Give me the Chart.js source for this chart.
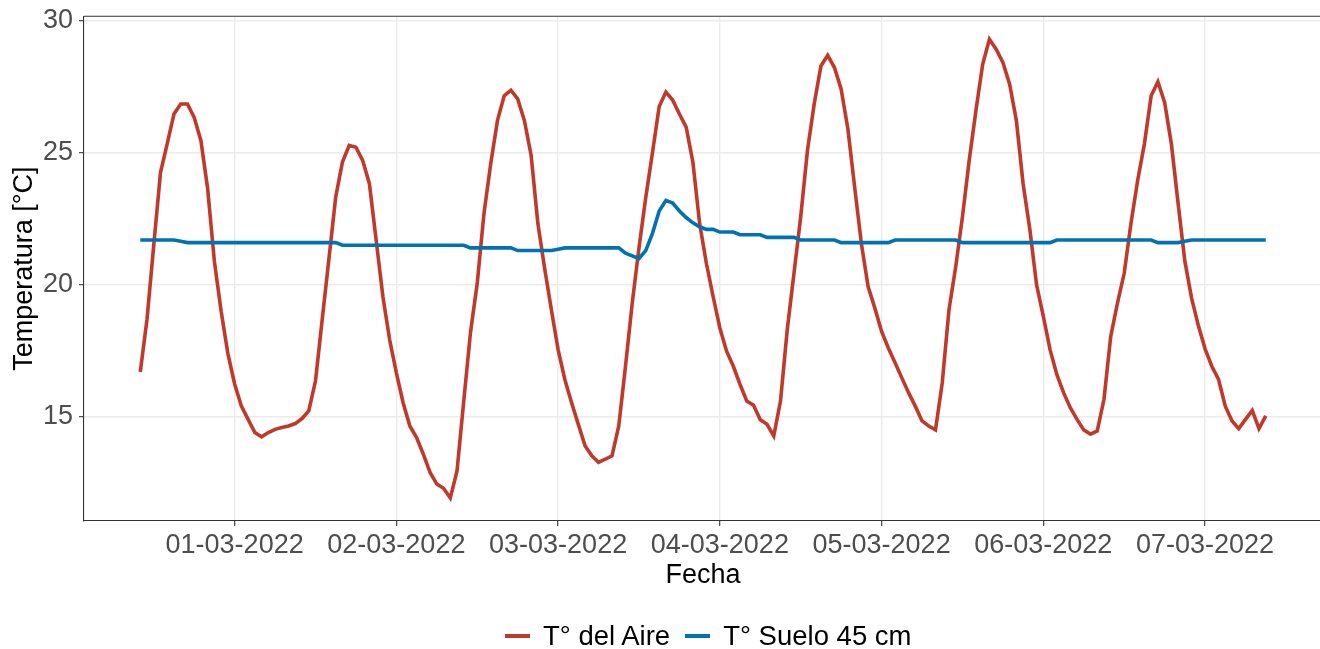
<!DOCTYPE html>
<html>
<head>
<meta charset="utf-8">
<script src="https://cdn.jsdelivr.net/npm/chart.js@4.4.1/dist/chart.umd.min.js"></script>
<style>
  html, body { margin: 0; padding: 0; background: #ffffff; overflow: hidden; }
  #wrap { position: relative; width: 1323px; height: 649px; }
  #legend { position: absolute; left: 505px; top: 616px; height: 40px; display: flex; align-items: center;
            font-family: 'Liberation Sans', Arial, sans-serif; font-size: 27.5px; color: #000; white-space: nowrap; }
  .key { display: inline-block; width: 25px; height: 3.8px; margin-right: 13px; }
  .gap { display: inline-block; width: 15px; }
</style>
</head>
<body>
<div id="wrap">
  <canvas id="c" width="1323" height="649"></canvas>
  <div id="legend"></div>
</div>
<script>
// ---- data ----
const seriesNames = ['T° del Aire', 'T° Suelo 45 cm'];
const seriesColors = ['#C0392B', '#0072B2'];
const firstTimestamp = '28-02-2022 10:00';   // hourly readings
const firstHourOffset = -14;                  // hours relative to 01-03-2022 00:00
const dayTickHours = [0, 24, 48, 72, 96, 120, 144];
const dayTickLabels = ['01-03-2022', '02-03-2022', '03-03-2022', '04-03-2022', '05-03-2022', '06-03-2022', '07-03-2022'];
const yTickValues = [15, 20, 25, 30];

const airTemp = [
  // 28-02 10:00-23:00
  16.7, 18.7, 21.5, 24.25, 25.35, 26.47, 26.85, 26.85, 26.34, 25.46, 23.64, 20.88, 19.0, 17.4,
  // 01-03
  16.25, 15.41, 14.91, 14.41, 14.25, 14.41, 14.53, 14.6, 14.66, 14.75, 14.94, 15.23, 16.36, 18.7, 21.0, 23.33, 24.65, 25.28, 25.21, 24.71, 23.83, 21.7, 19.56, 17.93,
  // 02-03
  16.67, 15.54, 14.66, 14.22, 13.59, 12.9, 12.46, 12.3, 11.93, 12.96, 15.6, 18.2, 20.06, 22.7, 24.59, 26.22, 27.16, 27.37, 27.04, 26.22, 24.9, 22.32, 20.63, 19.06,
  // 03-03
  17.55, 16.42, 15.54, 14.72, 13.91, 13.53, 13.28, 13.4, 13.53, 14.66, 16.92, 19.31, 21.4, 23.3, 25.0, 26.75, 27.3, 27.0, 26.47, 25.97, 24.65, 22.32, 20.82, 19.56,
  // 04-03
  18.37, 17.49, 16.92, 16.23, 15.6, 15.44, 14.89, 14.72, 14.28, 15.6, 18.3, 20.44, 22.58, 25.09, 26.85, 28.29, 28.69, 28.23, 27.41, 25.9, 23.71, 21.57, 19.94, 19.12,
  // 05-03
  18.24, 17.61, 17.05, 16.48, 15.92, 15.41, 14.85, 14.66, 14.51, 16.29, 19.06, 20.69, 22.58, 24.71, 26.6, 28.35, 29.3, 28.92, 28.42, 27.6, 26.22, 23.83, 22.1, 20.0,
  // 06-03
  18.81, 17.55, 16.61, 15.92, 15.35, 14.91, 14.51, 14.35, 14.47, 15.67, 18.05, 19.31, 20.44, 22.32, 23.96, 25.34, 27.16, 27.69, 26.91, 25.34, 23.08, 20.9, 19.5, 18.46,
  // 07-03 00:00-09:00
  17.58, 16.92, 16.42, 15.41, 14.85, 14.56, 14.91, 15.25, 14.56, 15.04
];

const soilTemp = [
  // 28-02 10:00-23:00
  21.7, 21.7, 21.7, 21.7, 21.7, 21.7, 21.65, 21.6, 21.6, 21.6, 21.6, 21.6, 21.6, 21.6,
  // 01-03
  21.6, 21.6, 21.6, 21.6, 21.6, 21.6, 21.6, 21.6, 21.6, 21.6, 21.6, 21.6, 21.6, 21.6, 21.6, 21.6, 21.5, 21.5, 21.5, 21.5, 21.5, 21.5, 21.5, 21.5,
  // 02-03
  21.5, 21.5, 21.5, 21.5, 21.5, 21.5, 21.5, 21.5, 21.5, 21.5, 21.5, 21.4, 21.4, 21.4, 21.4, 21.4, 21.4, 21.4, 21.3, 21.3, 21.3, 21.3, 21.3, 21.3,
  // 03-03
  21.35, 21.4, 21.4, 21.4, 21.4, 21.4, 21.4, 21.4, 21.4, 21.4, 21.2, 21.1, 21.0, 21.3, 21.95, 22.8, 23.2, 23.1, 22.8, 22.55, 22.35, 22.2, 22.1, 22.1,
  // 04-03
  22.0, 22.0, 22.0, 21.9, 21.9, 21.9, 21.9, 21.8, 21.8, 21.8, 21.8, 21.8, 21.7, 21.7, 21.7, 21.7, 21.7, 21.7, 21.6, 21.6, 21.6, 21.6, 21.6, 21.6,
  // 05-03
  21.6, 21.6, 21.7, 21.7, 21.7, 21.7, 21.7, 21.7, 21.7, 21.7, 21.7, 21.7, 21.6, 21.6, 21.6, 21.6, 21.6, 21.6, 21.6, 21.6, 21.6, 21.6, 21.6, 21.6,
  // 06-03
  21.6, 21.6, 21.7, 21.7, 21.7, 21.7, 21.7, 21.7, 21.7, 21.7, 21.7, 21.7, 21.7, 21.7, 21.7, 21.7, 21.7, 21.6, 21.6, 21.6, 21.6, 21.65, 21.7, 21.7,
  // 07-03 00:00-09:00
  21.7, 21.7, 21.7, 21.7, 21.7, 21.7, 21.7, 21.7, 21.7, 21.7
];

// ---- build chart ----
const toPoints = arr => arr.map((v, i) => ({ x: firstHourOffset + i, y: v }));
const allVals = airTemp.concat(soilTemp);
const yMinData = Math.min(...allVals), yMaxData = Math.max(...allVals);
const yPad = (yMaxData - yMinData) * 0.05;
const xMinData = firstHourOffset, xMaxData = firstHourOffset + airTemp.length - 1;
const xPad = (xMaxData - xMinData) * 0.05;

const FONT = "'Liberation Sans', Arial, sans-serif";
const GRID = '#EBEBEB';
const AXIS = '#333333';

// top edge of the panel (left/bottom come from the axes; right edge is off-page)
const borderPlugin = {
  id: 'panelBorder',
  afterDraw(chart) {
    const { ctx, chartArea: a } = chart;
    ctx.save();
    ctx.strokeStyle = AXIS;
    ctx.lineWidth = 1.1;
    ctx.beginPath();
    ctx.moveTo(a.left, a.top);
    ctx.lineTo(a.right + 2, a.top);
    ctx.stroke();
    ctx.restore();
  }
};

new Chart(document.getElementById('c'), {
  type: 'line',
  data: {
    datasets: [
      { label: seriesNames[0], data: toPoints(airTemp), borderColor: seriesColors[0], backgroundColor: seriesColors[0],
        borderWidth: 3.6, pointRadius: 0, tension: 0, fill: false, order: 1 },
      { label: seriesNames[1], data: toPoints(soilTemp), borderColor: seriesColors[1], backgroundColor: seriesColors[1],
        borderWidth: 3.6, pointRadius: 0, tension: 0, fill: false, order: 0 }
    ]
  },
  options: {
    responsive: false,
    animation: false,
    devicePixelRatio: 1,
    layout: { padding: { top: 16.3, left: 0, right: 1, bottom: 38 } },
    plugins: { legend: { display: false }, tooltip: { enabled: false } },
    scales: {
      x: {
        type: 'linear',
        min: xMinData - xPad,
        max: xMaxData + xPad,
        afterFit(s) { s.height = 90; s.paddingLeft = 0; s.paddingRight = 0; },
        afterBuildTicks(s) { s.ticks = dayTickHours.map(v => ({ value: v })); },
        grid: { color: GRID, lineWidth: 1.4, tickColor: AXIS, tickLength: 5, tickWidth: 1.1 },
        border: { display: true, color: AXIS, width: 1.1 },
        ticks: {
          autoSkip: false, maxRotation: 0, padding: 3, color: '#4D4D4D',
          font: { family: FONT, size: 27 },
          callback: (v) => { const i = dayTickHours.indexOf(v); return i >= 0 ? dayTickLabels[i] : ''; }
        },
        title: { display: true, text: 'Fecha', color: '#000', font: { family: FONT, size: 27 }, padding: 19 }
      },
      y: {
        type: 'linear',
        min: yMinData - yPad,
        max: yMaxData + yPad,
        afterFit(s) { s.width = 84; s.paddingTop = 0; s.paddingBottom = 0; },
        afterBuildTicks(s) { s.ticks = yTickValues.map(v => ({ value: v })); },
        grid: { color: GRID, lineWidth: 1.4, tickColor: AXIS, tickLength: 5, tickWidth: 1.1 },
        border: { display: true, color: AXIS, width: 1.1 },
        ticks: { padding: 6, color: '#4D4D4D', font: { family: FONT, size: 27 } },
        title: { display: true, text: 'Temperatura [°C]', color: '#000', font: { family: FONT, size: 27 }, padding: 8 }
      }
    }
  },
  plugins: [borderPlugin]
});

// ---- legend (HTML text) ----
const lg = document.getElementById('legend');
seriesNames.forEach((name, i) => {
  if (i > 0) { const g = document.createElement('span'); g.className = 'gap'; lg.appendChild(g); }
  const k = document.createElement('span'); k.className = 'key'; k.style.background = seriesColors[i]; lg.appendChild(k);
  const t = document.createElement('span'); t.textContent = name; lg.appendChild(t);
});
</script>
</body>
</html>
